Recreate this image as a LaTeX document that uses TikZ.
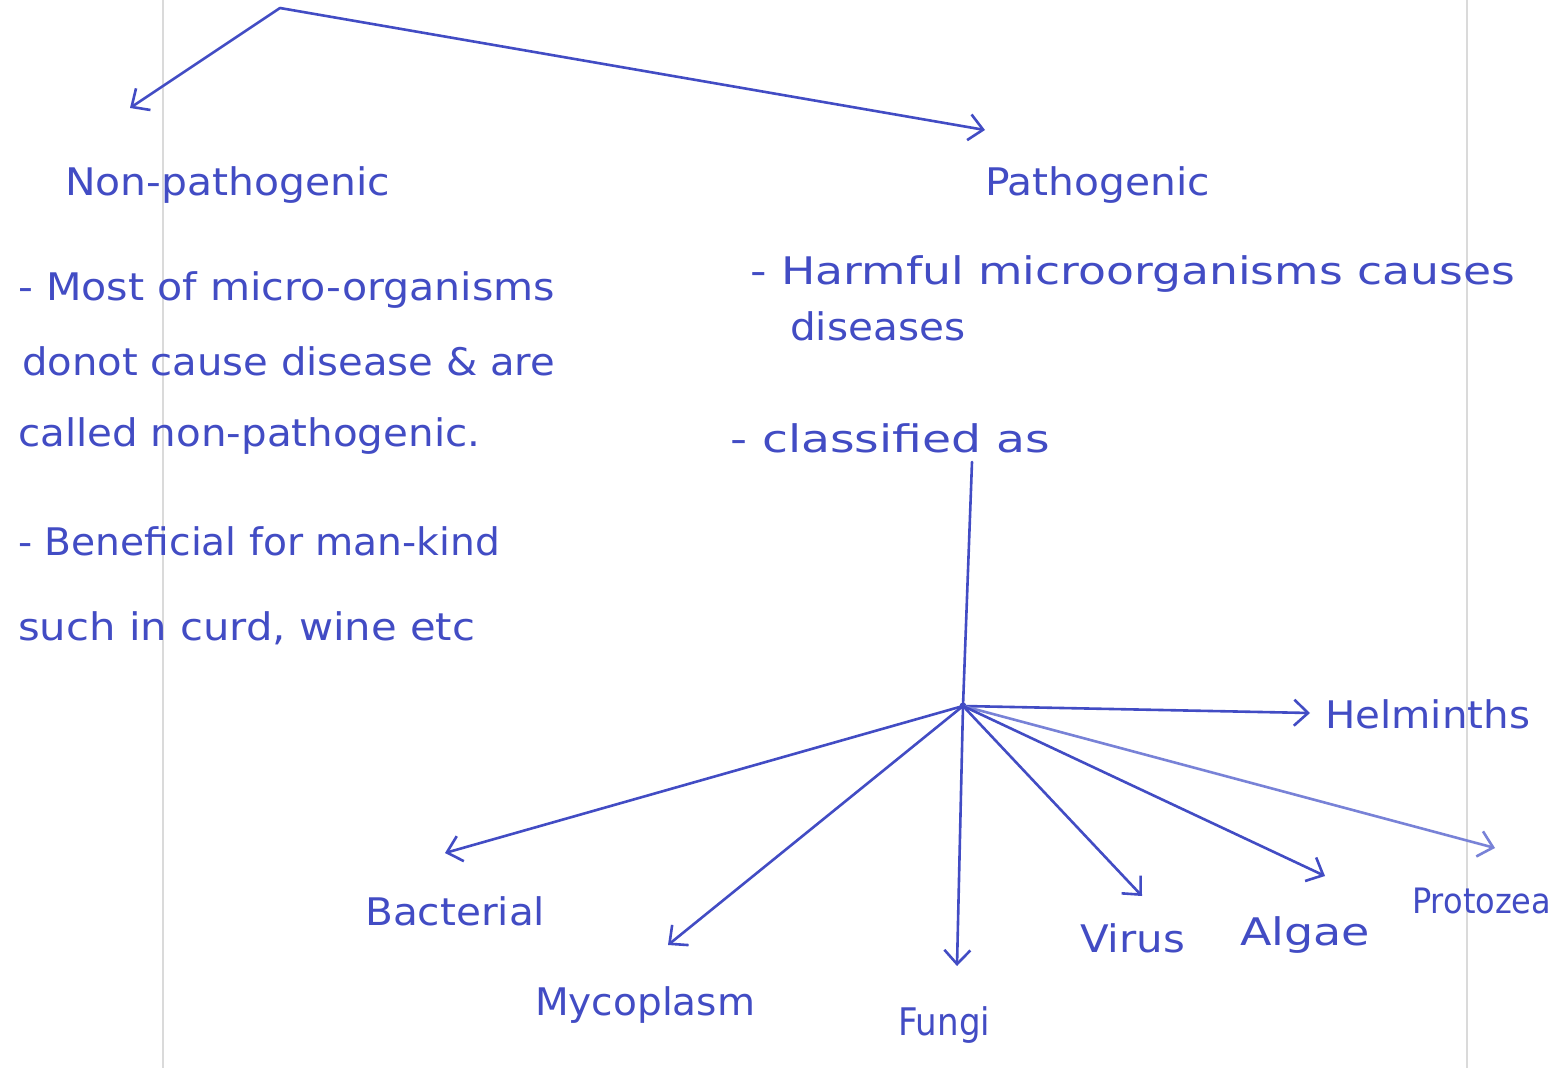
\documentclass[tikz,border=0pt]{standalone}
\usepackage{fontspec}
\setmainfont{DejaVu Sans}
\usetikzlibrary{arrows.meta}
\definecolor{ink}{RGB}{66,76,196}
\definecolor{inklight}{RGB}{120,130,215}
\definecolor{marginline}{RGB}{218,218,218}
% fit a text to a given width (in pt), keeping its height
\newcommand\hw[2]{\resizebox{#1pt}{\height}{#2}}
\tikzset{
  hand/.style={text=ink, font=\fontsize{38}{44}\selectfont, inner sep=0pt, anchor=base west},
  conn/.style={draw=ink, line width=2.6pt, line cap=round},
  arr/.style={conn, -{Straight Barb[length=14pt,width=26pt]}},
  margin/.style={draw=marginline, line width=1.2pt}
}
\begin{document}
\begin{tikzpicture}[x=1pt,y=-1pt]
\useasboundingbox (0,0) rectangle (1553,1068);
\fill[white] (0,0) rectangle (1553,1068);
% paper margin lines
\draw[margin] (163,0) -- (163,1068);
\draw[margin] (1467,0) -- (1467,1068);

% top split
\coordinate (top) at (280,8);
\coordinate (npTip) at (130,108);
\coordinate (pTip) at (985,130);
\draw[arr] (top) -- (npTip);
\draw[arr] (top) -- (pTip);

% headings
\node[hand] (nonpath) at (65,195) {\hw{325}{Non-pathogenic}};
\node[hand] (path) at (985,195) {\hw{225}{Pathogenic}};

% left column text
\node[hand] (l1) at (18,300) {\hw{537}{- Most of micro-organisms}};
\node[hand] (l2) at (22,375) {\hw{533}{donot cause disease \& are}};
\node[hand] (l3) at (18,446) {\hw{462}{called non-pathogenic.}};
\node[hand] (l4) at (18,555) {\hw{482}{- Beneficial for man-kind}};
\node[hand] (l5) at (18,640) {\hw{457}{such in curd, wine etc}};

% right column text
\node[hand] (r1) at (750,284) {\hw{765}{- Harmful microorganisms causes}};
\node[hand] (r2) at (790,340) {\hw{175}{diseases}};
\node[hand] (r3) at (730,452) {\hw{320}{- classified as}};

% classification tree
\coordinate (clsEnd) at (972,462);
\coordinate (hub) at (963,706);
\draw[conn] (clsEnd) -- (hub);
\fill[ink] (hub) circle (3.5pt);

\coordinate (tHel) at (1310,713);
\coordinate (tPro) at (1495,848);
\coordinate (tAlg) at (1325,876);
\coordinate (tVir) at (1142,896);
\coordinate (tFun) at (957,966);
\coordinate (tMyc) at (668,945);
\coordinate (tBac) at (445,853);

\draw[arr] (hub) -- (tHel);
\draw[arr, draw=inklight] (hub) -- (tPro);
\draw[arr] (hub) -- (tAlg);
\draw[arr] (hub) -- (tVir);
\draw[arr] (hub) -- (tFun);
\draw[arr] (hub) -- (tMyc);
\draw[arr] (hub) -- (tBac);

\node[hand] (hel) at (1325,728) {\hw{205}{Helminths}};
\node[hand, font=\fontsize{35}{40}\selectfont] (pro) at (1412,913) {\hw{139}{Protozea}};
\node[hand] (alg) at (1240,945) {\hw{130}{Algae}};
\node[hand] (vir) at (1080,952) {\hw{105}{Virus}};
\node[hand] (fun) at (898,1035) {\hw{92}{Fungi}};
\node[hand] (myc) at (535,1015) {\hw{220}{Mycoplasm}};
\node[hand] (bac) at (365,925) {\hw{180}{Bacterial}};
\end{tikzpicture}
\end{document}
